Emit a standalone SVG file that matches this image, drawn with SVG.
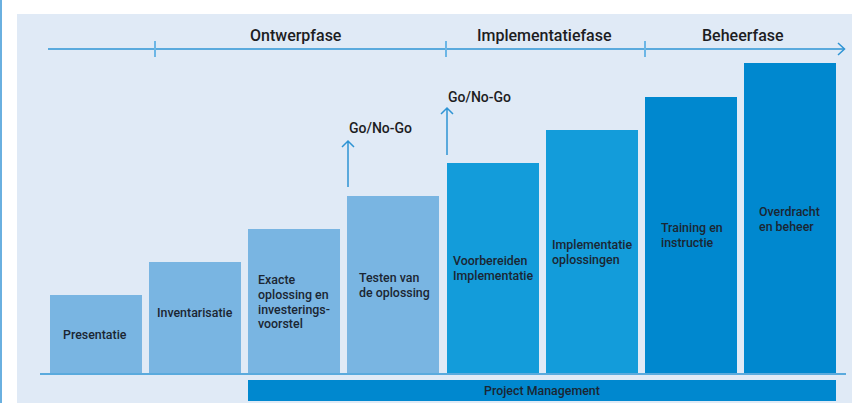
<svg xmlns="http://www.w3.org/2000/svg" width="852" height="403" viewBox="0 0 852 403">
<defs>
<style>
.t{font-family:Roboto,"Liberation Sans",sans-serif;font-weight:500;fill:#1d1d1f}
.ph{font-size:16px}
.bt{font-size:12.4px;fill:#1b2633}
.gl{font-size:14px}
.ln{stroke:#2e94d4;stroke-width:1.5;fill:none}
.tk{stroke:#6cb6e6;stroke-width:2}
.c1{fill:#79b5e2}
.c2{fill:#139cda}
.c3{fill:#0088cf}
</style>
</defs>
<rect x="0" y="0" width="852" height="403" fill="#ffffff"/>
<line x1="1" y1="0" x2="1" y2="403" stroke="#6ab0e0" stroke-width="2"/>
<rect x="17" y="14" width="835" height="389" fill="#e0eaf6"/>

<g id="connectors">
<line class="ln" x1="48" y1="49" x2="844" y2="49"/>
<path class="ln" d="M838,43 L844.5,49 L838,55"/>
<line class="tk" x1="155" y1="41" x2="155" y2="57"/>
<line class="tk" x1="446" y1="41" x2="446" y2="57"/>
<line class="tk" x1="645" y1="41" x2="645" y2="57"/>
<line class="ln" x1="40" y1="374" x2="846" y2="374"/>
<path class="ln" d="M348,187 L348,141 M342,147 L348,141 L354,147"/>
<path class="ln" d="M447,155 L447,108 M441,114 L447,108 L453,114"/>
</g>

<g id="phases">
<text class="t ph" x="250" y="41">Ontwerpfase</text>
<text class="t ph" x="477" y="41">Implementatiefase</text>
<text class="t ph" x="702" y="41">Beheerfase</text>
</g>

<g id="gonogo">
<text class="t gl" x="349" y="133">Go/No-Go</text>
<text class="t gl" x="448" y="102">Go/No-Go</text>
</g>

<g id="bar1"><rect class="c1" x="50" y="295" width="92" height="78"/>
<text class="t bt" x="63" y="339">Presentatie</text></g>
<g id="bar2"><rect class="c1" x="149" y="262" width="92" height="111"/>
<text class="t bt" x="157" y="317">Inventarisatie</text></g>
<g id="bar3"><rect class="c1" x="248" y="229" width="92" height="144"/>
<text class="t bt" x="258" y="284">Exacte<tspan x="258" y="299">oplossing en</tspan><tspan x="258" y="313.5">investerings-</tspan><tspan x="258" y="328">voorstel</tspan></text></g>
<g id="bar4"><rect class="c1" x="347" y="196" width="92" height="177"/>
<text class="t bt" x="359" y="282">Testen van<tspan x="359" y="297">de oplossing</tspan></text></g>
<g id="bar5"><rect class="c2" x="447" y="163" width="92" height="210"/>
<text class="t bt" x="453" y="265">Voorbereiden<tspan x="453" y="279.5">Implementatie</tspan></text></g>
<g id="bar6"><rect class="c2" x="546" y="130" width="92" height="243"/>
<text class="t bt" x="552" y="249">Implementatie<tspan x="552" y="263.5">oplossingen</tspan></text></g>
<g id="bar7"><rect class="c3" x="645" y="97" width="92" height="276"/>
<text class="t bt" x="661" y="232">Training en<tspan x="661" y="246.5">instructie</tspan></text></g>
<g id="bar8"><rect class="c3" x="744" y="63" width="92" height="310"/>
<text class="t bt" x="759" y="216">Overdracht<tspan x="759" y="230.5">en beheer</tspan></text></g>

<g id="pm"><rect class="c3" x="248" y="380" width="588" height="21"/>
<text class="t bt" x="542" y="394.5" text-anchor="middle">Project Management</text></g>
</svg>
